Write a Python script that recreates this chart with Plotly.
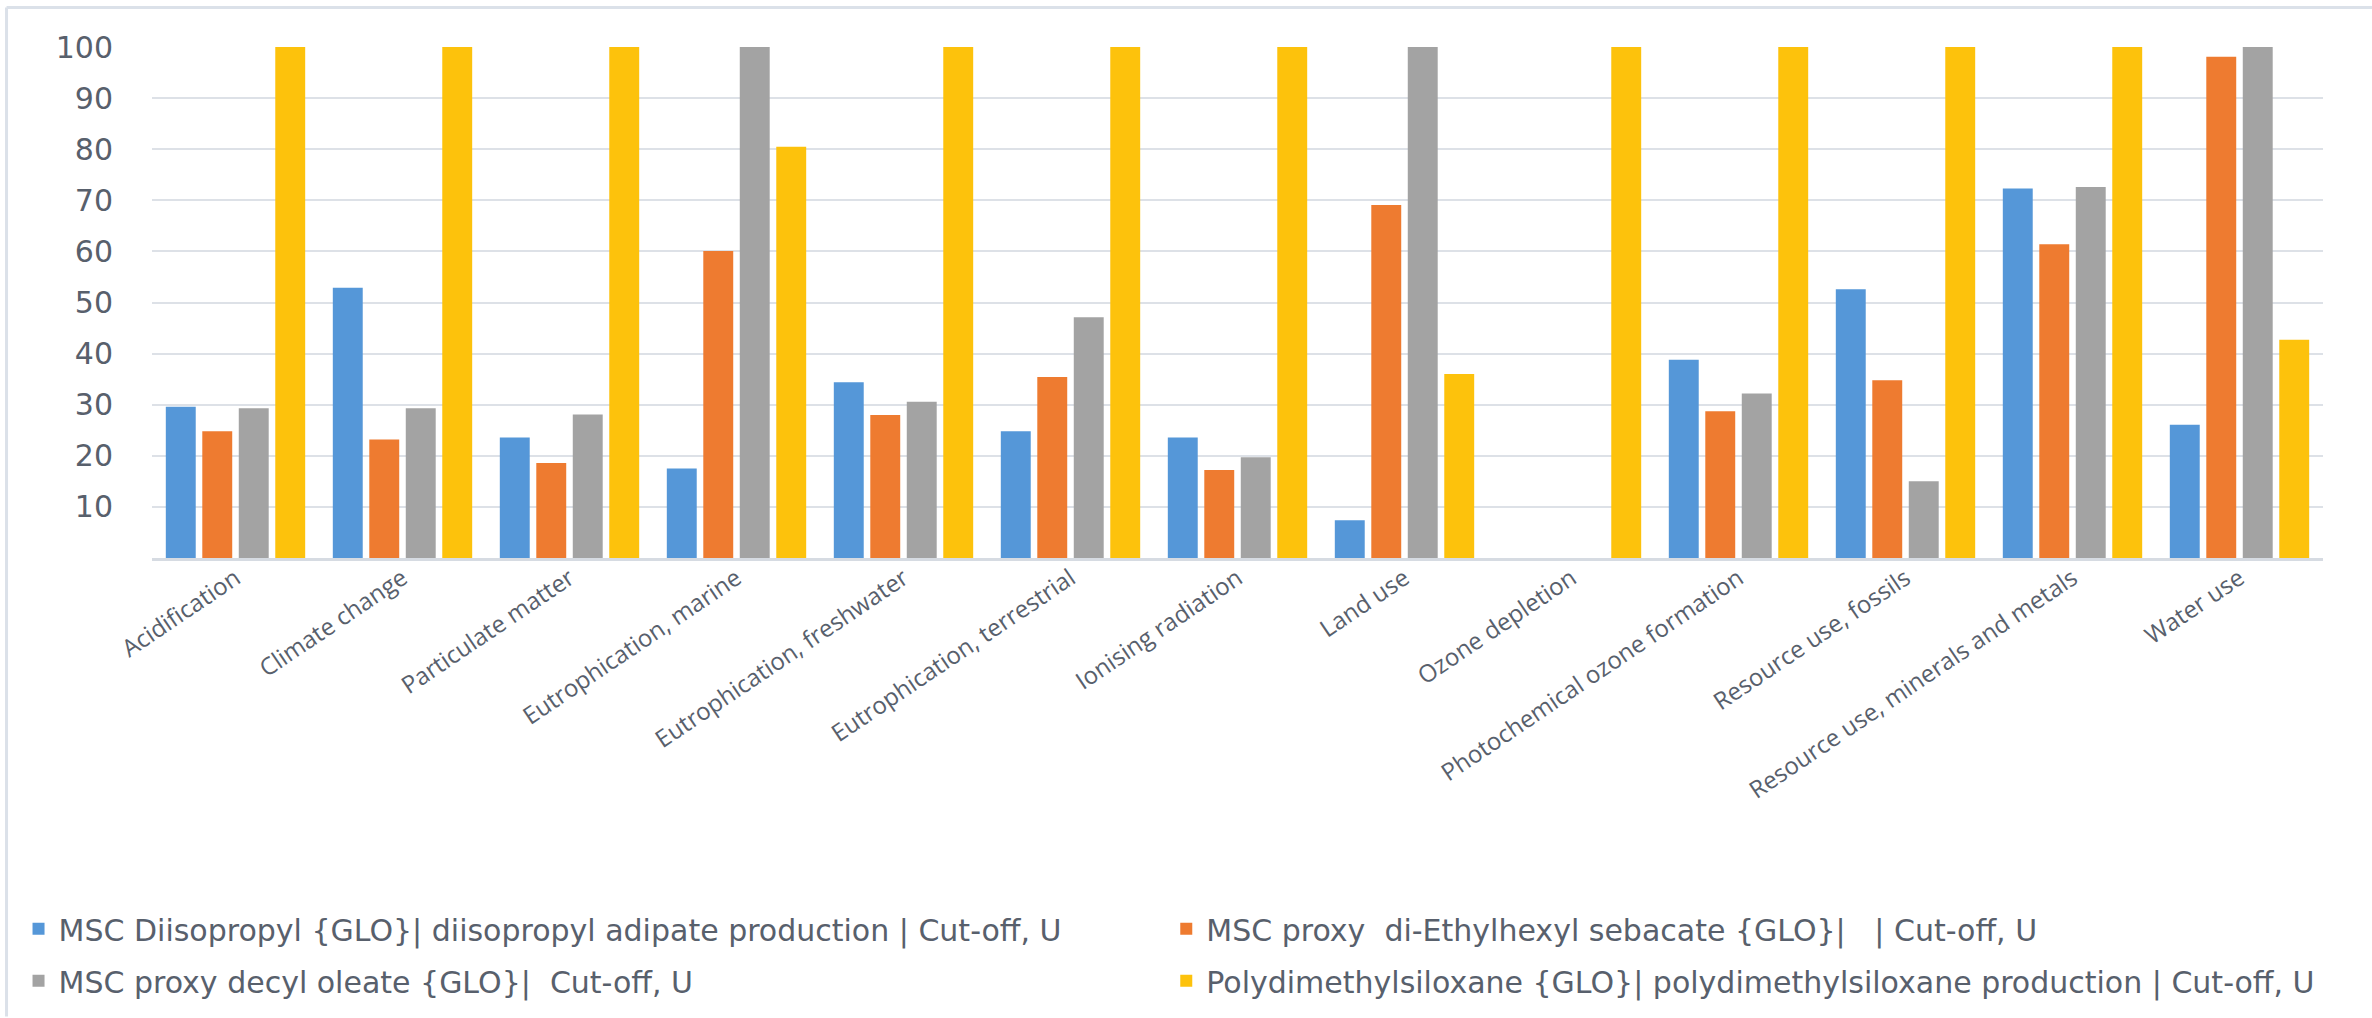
import plotly.graph_objects as go

categories = [
    "Acidification", "Climate change", "Particulate matter", "Eutrophication, marine",
    "Eutrophication, freshwater", "Eutrophication, terrestrial", "Ionising radiation",
    "Land use", "Ozone depletion", "Photochemical ozone formation",
    "Resource use, fossils", "Resource use, minerals and metals", "Water use",
]

series_names = [
    "MSC Diisopropyl {GLO}| diisopropyl adipate production | Cut-off, U",
    "MSC proxy  di-Ethylhexyl sebacate {GLO}|   | Cut-off, U",
    "MSC proxy decyl oleate {GLO}|  Cut-off, U",
    "Polydimethylsiloxane {GLO}| polydimethylsiloxane production | Cut-off, U",
]

diisopropyl = [29.6, 52.9, 23.6, 17.5, 34.4, 24.8, 23.6, 7.4, 0, 38.8, 52.6, 72.3, 26.1]
ethylhexyl = [24.8, 23.2, 18.6, 60.1, 28.0, 35.4, 17.2, 69.1, 0, 28.7, 34.8, 61.4, 98.1]
decyl_oleate = [29.3, 29.3, 28.1, 100, 30.6, 47.1, 19.7, 100, 0, 32.2, 15.0, 72.6, 100]
pdms = [100, 100, 100, 80.5, 100, 100, 100, 36.0, 100, 100, 100, 100, 42.7]

y_ticks = [10, 20, 30, 40, 50, 60, 70, 80, 90, 100]

colors = ["#5597d8", "#ee7b30", "#a3a3a3", "#fdc20c"]
values = [diisopropyl, ethylhexyl, decyl_oleate, pdms]
legend_ids = ["legend", "legend2", "legend", "legend2"]

fig = go.Figure()
for i, (name, vals, col, lg) in enumerate(zip(series_names, values, colors, legend_ids)):
    fig.add_trace(go.Bar(
        x=categories, y=vals, name=name,
        marker=dict(color=col, line=dict(width=0)),
        legend=lg, legendgroup=f"g{i}",
    ))

text_col = "#58606c"
W, H = 2372, 1018
L, R, T, B = 151.5, 49, 46.5, 459.5
pw = W - L - R
ph = H - T - B


def px_x(p):
    return (p - L) / pw


def px_y(p):
    return (H - B - p) / ph


legend_common = dict(
    orientation="v", xanchor="left", yanchor="top",
    font=dict(family="DejaVu Sans", size=30, color=text_col),
    bgcolor="rgba(0,0,0,0)", tracegroupgap=10, itemwidth=30,
)

fig.update_layout(
    width=W, height=H,
    margin=dict(l=L, r=R, t=T, b=B, autoexpand=False),
    paper_bgcolor="white", plot_bgcolor="white",
    barmode="group", bargap=0.126, bargroupgap=0.18,
    font=dict(family="Open Sans", color=text_col),
    legend=dict(x=px_x(18), y=px_y(904), **legend_common),
    legend2=dict(x=px_x(1166), y=px_y(904), **legend_common),
    showlegend=True,
    xaxis=dict(
        tickangle=-34, tickfont=dict(family="Open Sans", size=24, color=text_col),
        showgrid=False, showline=True, linecolor="#d6dbe2", linewidth=3,
        ticks="", ticklabelstandoff=-6, zeroline=False,
    ),
    yaxis=dict(
        range=[0, 100], tickvals=y_ticks,
        tickfont=dict(family="DejaVu Sans", size=30, color=text_col),
        showgrid=True, gridcolor="#dde1e7", gridwidth=2,
        showline=False, zeroline=False, ticks="", ticklabelstandoff=38,
    ),
    shapes=[
        dict(type="line", xref="paper", yref="paper",
             x0=px_x(6), x1=px_x(2372), y0=px_y(7), y1=px_y(7),
             line=dict(color="#dbe1e9", width=3)),
        dict(type="line", xref="paper", yref="paper",
             x0=px_x(6), x1=px_x(6), y0=px_y(7), y1=px_y(1018),
             line=dict(color="#dbe1e9", width=3)),
    ],
)

fig.write_html("out.html")
